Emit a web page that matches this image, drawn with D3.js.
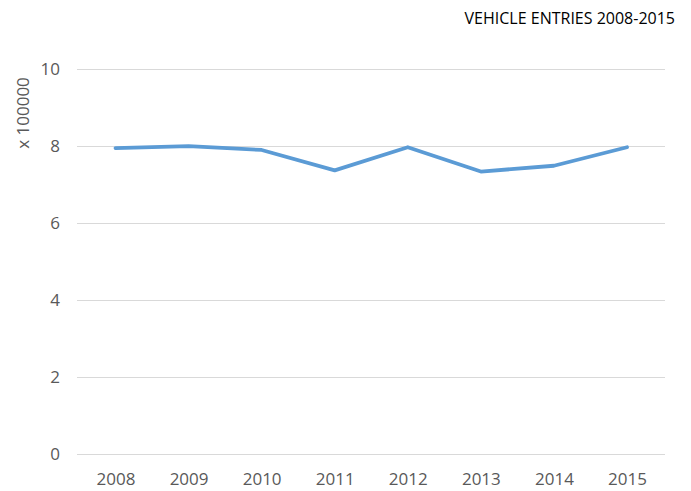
<!DOCTYPE html>
<html>
<script src='https://d3js.org/d3.v7.min.js'></script>
<style>
 body {margin:0; background:#fff;}
 text {font-family: 'Open Sans', sans-serif; fill:#595959;}
</style>
<body onload='init()'>
<svg></svg>
<script>
const years = ["2008","2009","2010","2011","2012","2013","2014","2015"];
const entries = [7.96, 8.01, 7.91, 7.38, 7.98, 7.35, 7.50, 7.98];
const yTicks = [0, 2, 4, 6, 8, 10];

function init() {
  var svg = d3.select("svg").attr("width",691).attr("height",491);

  var x = d3.scalePoint().domain(years).range([115.5, 627]);
  var y = d3.scaleLinear().domain([0,10]).range([454.5, 69.5]);

  // gridlines
  svg.append("g").selectAll("line").data(yTicks).enter().append("line")
     .attr("x1",77).attr("x2",665)
     .attr("y1",d => y(d)).attr("y2",d => y(d))
     .attr("stroke","#d9d9d9").attr("stroke-width",1);

  var ya = svg.append("g").attr("transform","translate(77,0)")
     .call(d3.axisLeft(y).tickValues(yTicks).tickSize(0).tickPadding(17));
  ya.select(".domain").remove();
  ya.selectAll("text").style("font-size","17px").style("fill","#595959");

  var xa = svg.append("g").attr("transform","translate(0,454)")
     .call(d3.axisBottom(x).tickSize(0).tickPadding(19));
  xa.select(".domain").remove();
  xa.selectAll("text").style("font-size","17px").style("fill","#595959");

  svg.append("path").datum(entries)
     .attr("fill","none").attr("stroke","#5b9bd5").attr("stroke-width",3.8)
     .attr("stroke-linejoin","round").attr("stroke-linecap","round")
     .attr("d", d3.line().x((d,i) => x(years[i])).y(d => y(d)));

  svg.append("text").attr("transform","translate(29,113) rotate(-90)")
     .attr("text-anchor","middle").style("font-size","17px").text("x 100000");

  svg.append("text").attr("x",675).attr("y",24).attr("text-anchor","end")
     .style("font-size","16px").style("fill","#000").text("VEHICLE ENTRIES 2008-2015");
}
</script>
</body>
</html>
